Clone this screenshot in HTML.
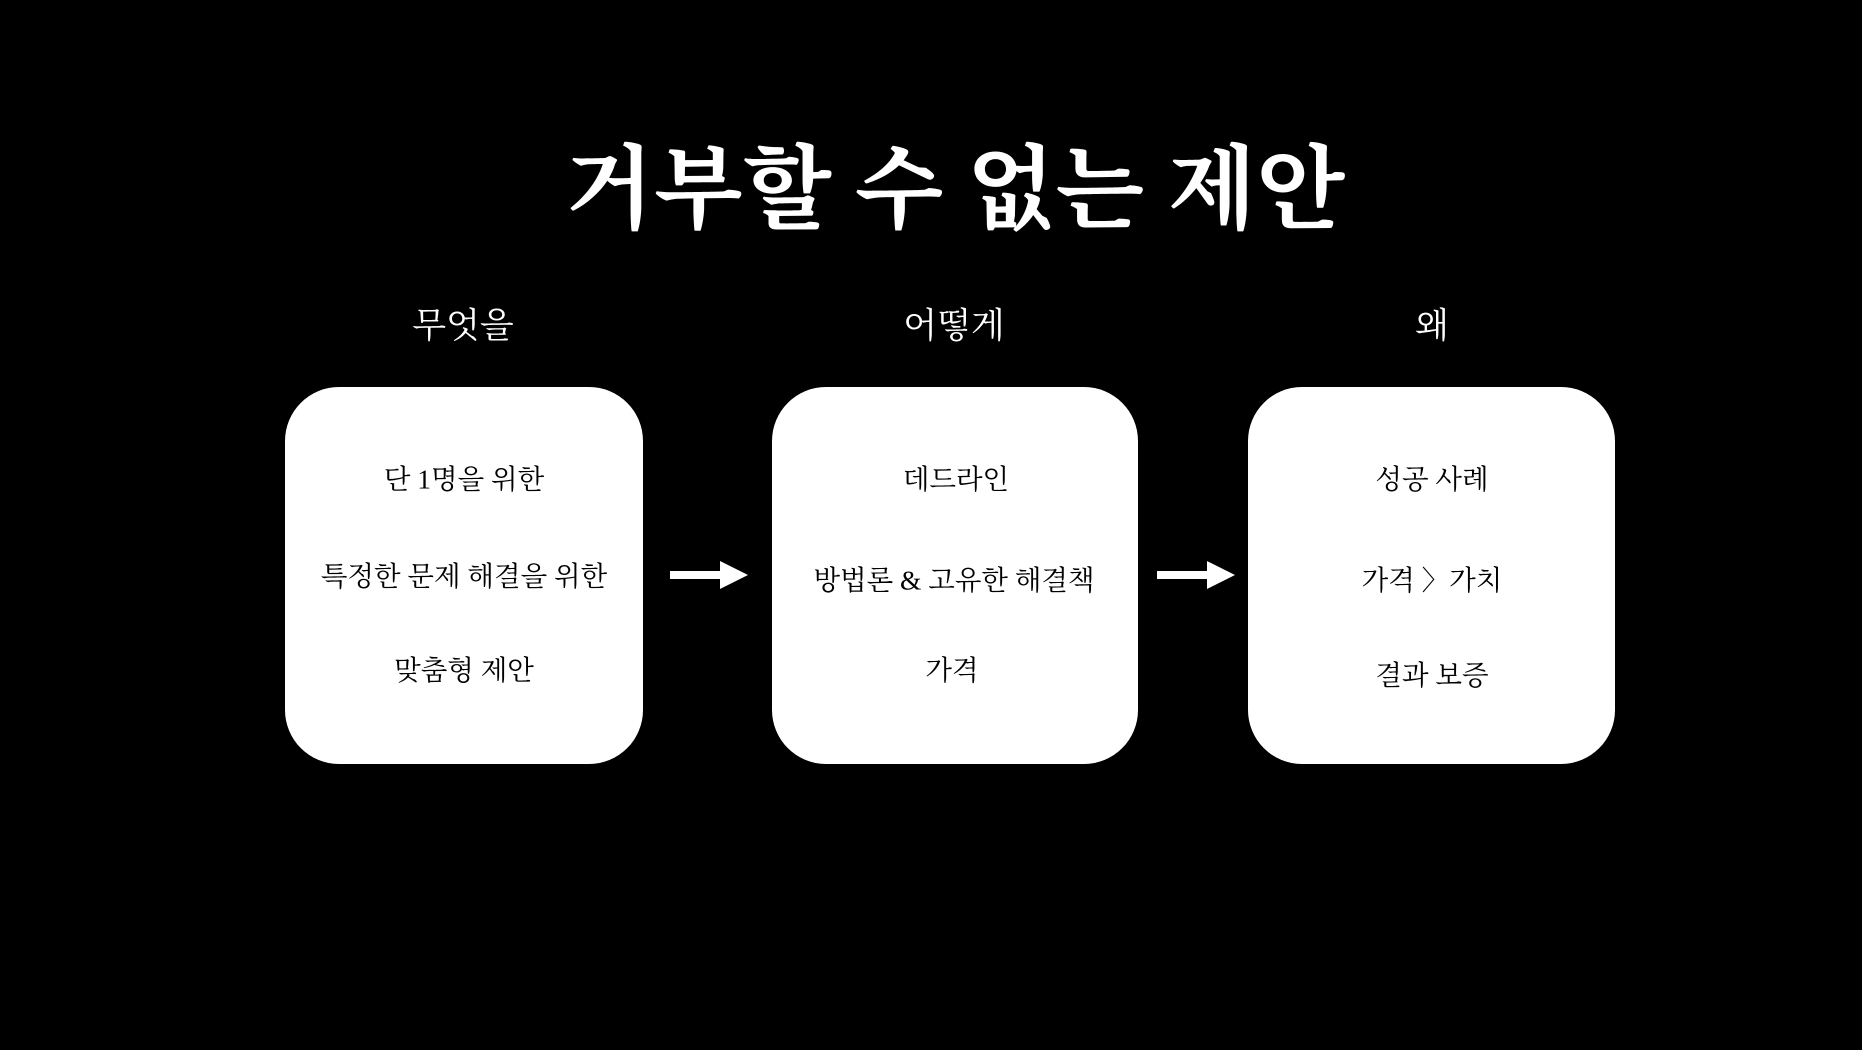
<!DOCTYPE html>
<html><head><meta charset="utf-8"><style>
html,body{margin:0;padding:0;background:#000;}
body{width:1862px;height:1050px;position:relative;overflow:hidden;font-family:"Liberation Serif","Noto Serif CJK SC","Noto Serif CJK KR",serif;color:#fff;}
.t{position:absolute;white-space:nowrap;transform:translate(-50%,-50%);line-height:1;}
.title{font-size:92px;font-weight:bold;}
.h{font-size:35px;}
.box{position:absolute;background:#fff;border-radius:54px;}
.bt{color:#000;font-size:27.5px;}
.arrow{position:absolute;}
</style></head><body>
<div class="t title" style="left:955px;top:190px;">거부할 수 없는 제안</div>
<div class="t h" style="left:463px;top:326px;">무엇을</div>
<div class="t h" style="left:954px;top:326px;">어떻게</div>
<div class="t h" style="left:1432px;top:326px;">왜</div>

<div class="box" style="left:285px;top:387px;width:358px;height:377px;"></div>
<div class="box" style="left:772px;top:387px;width:366px;height:377px;"></div>
<div class="box" style="left:1248px;top:387px;width:367px;height:377px;"></div>

<div class="t bt" style="left:464px;top:479px;">단 1명을 위한</div>
<div class="t bt" style="left:464px;top:576px;">특정한 문제 해결을 위한</div>
<div class="t bt" style="left:464px;top:670px;">맞춤형 제안</div>

<div class="t bt" style="left:956px;top:479px;">데드라인</div>
<div class="t bt" style="left:954px;top:580px;">방법론 &amp; 고유한 해결책</div>
<div class="t bt" style="left:952px;top:670px;">가격</div>

<div class="t bt" style="left:1432px;top:479px;">성공 사례</div>
<div class="t bt" style="left:1432px;top:580px;">가격 〉가치</div>
<div class="t bt" style="left:1432px;top:675px;">결과 보증</div>

<svg class="arrow" style="left:670px;top:560px;" width="80" height="30"><rect x="0" y="11" width="52" height="8" fill="#fff"/><polygon points="50,1 78,15 50,29" fill="#fff"/></svg>
<svg class="arrow" style="left:1157px;top:560px;" width="80" height="30"><rect x="0" y="11" width="52" height="8" fill="#fff"/><polygon points="50,1 78,15 50,29" fill="#fff"/></svg>
</body></html>
